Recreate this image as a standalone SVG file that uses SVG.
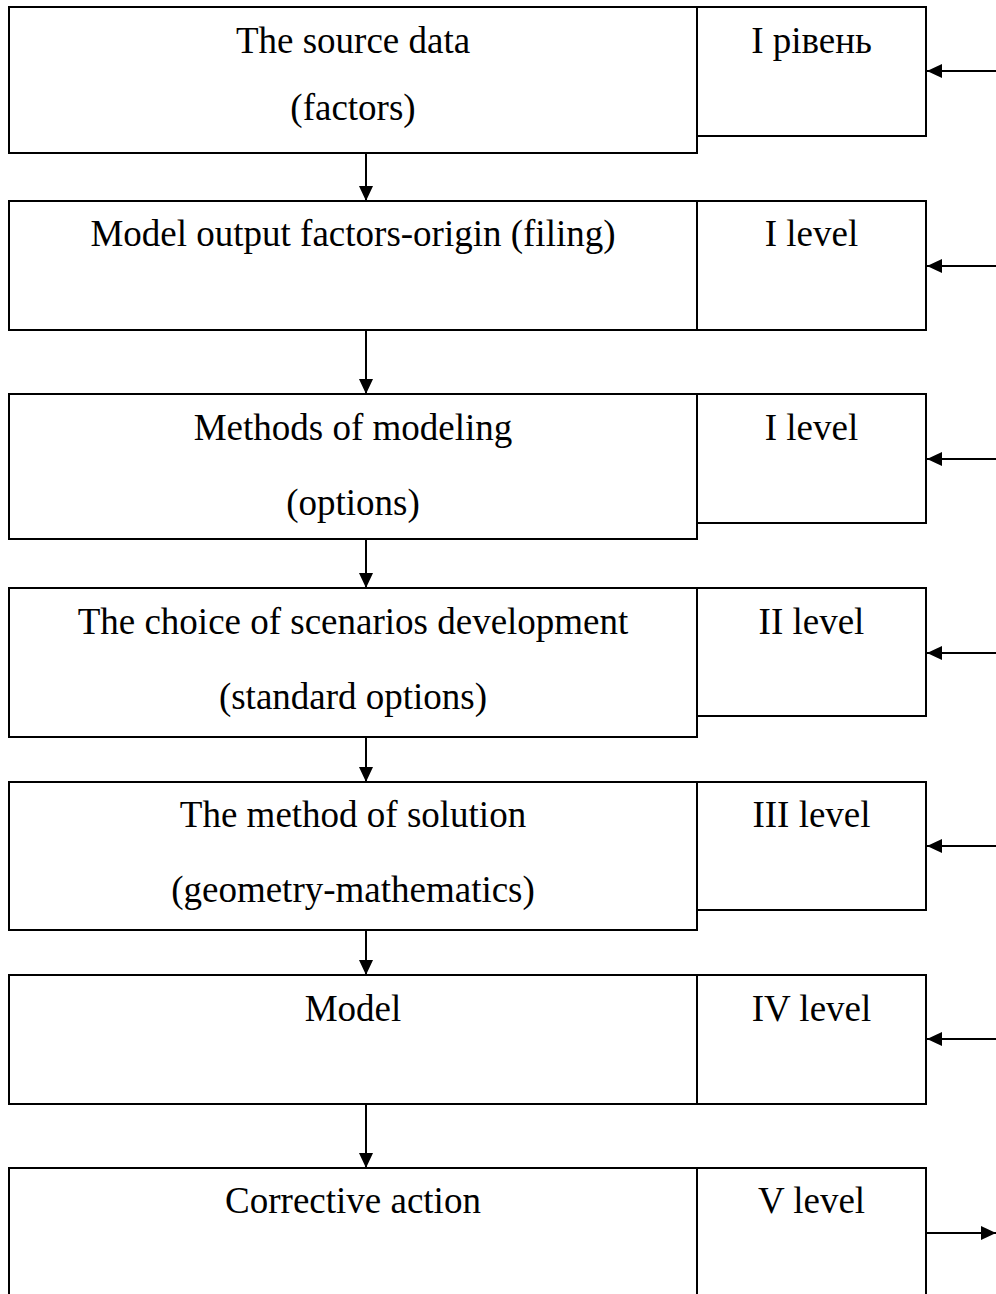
<svg xmlns="http://www.w3.org/2000/svg" width="996" height="1294" viewBox="0 0 996 1294">
<style>
.box{fill:#fff;stroke:#000;stroke-width:2}
.t{font-family:"Liberation Serif","Times New Roman",serif;font-size:37px;fill:#000;text-anchor:middle}
.c{stroke:#000;stroke-width:2;fill:none;marker-end:url(#ah)}
</style>
<defs>
<marker id="ah" markerUnits="userSpaceOnUse" markerWidth="15" markerHeight="14" refX="15" refY="7" orient="auto">
<path d="M0,0 L15,7 L0,14 z" fill="#000"/>
</marker>
</defs>
<rect width="996" height="1294" fill="#fff"/>
<g id="row1">
<rect class="box" x="9" y="7" width="688" height="146"/>
<rect class="box" x="697" y="7" width="229" height="129"/>
<text class="t" x="353" y="53">The source data</text>
<text class="t" x="353" y="120">(factors)</text>
<text class="t" x="811.5" y="53">I рівень</text>
</g>
<g id="row2">
<rect class="box" x="9" y="201" width="688" height="129"/>
<rect class="box" x="697" y="201" width="229" height="129"/>
<text class="t" x="353" y="246">Model output factors-origin (filing)</text>
<text class="t" x="811.5" y="246">I level</text>
</g>
<g id="row3">
<rect class="box" x="9" y="394" width="688" height="145"/>
<rect class="box" x="697" y="394" width="229" height="129"/>
<text class="t" x="353" y="440">Methods of modeling</text>
<text class="t" x="353" y="515">(options)</text>
<text class="t" x="811.5" y="440">I level</text>
</g>
<g id="row4">
<rect class="box" x="9" y="588" width="688" height="149"/>
<rect class="box" x="697" y="588" width="229" height="128"/>
<text class="t" x="353" y="634">The choice of scenarios development</text>
<text class="t" x="353" y="709">(standard options)</text>
<text class="t" x="811.5" y="634">II level</text>
</g>
<g id="row5">
<rect class="box" x="9" y="782" width="688" height="148"/>
<rect class="box" x="697" y="782" width="229" height="128"/>
<text class="t" x="353" y="827">The method of solution</text>
<text class="t" x="353" y="902">(geometry-mathematics)</text>
<text class="t" x="811.5" y="827">III level</text>
</g>
<g id="row6">
<rect class="box" x="9" y="975" width="688" height="129"/>
<rect class="box" x="697" y="975" width="229" height="129"/>
<text class="t" x="353" y="1021">Model</text>
<text class="t" x="811.5" y="1021">IV level</text>
</g>
<g id="row7">
<rect class="box" x="9" y="1168" width="688" height="140"/>
<rect class="box" x="697" y="1168" width="229" height="140"/>
<text class="t" x="353" y="1213">Corrective action</text>
<text class="t" x="811.5" y="1213">V level</text>
</g>
<g id="connectors">
<line class="c" x1="366" y1="153" x2="366" y2="201"/>
<line class="c" x1="366" y1="330" x2="366" y2="394"/>
<line class="c" x1="366" y1="539" x2="366" y2="588"/>
<line class="c" x1="366" y1="737" x2="366" y2="782"/>
<line class="c" x1="366" y1="930" x2="366" y2="975"/>
<line class="c" x1="366" y1="1104" x2="366" y2="1168"/>
<line class="c" x1="996" y1="71" x2="927" y2="71"/>
<line class="c" x1="996" y1="266" x2="927" y2="266"/>
<line class="c" x1="996" y1="459" x2="927" y2="459"/>
<line class="c" x1="996" y1="653" x2="927" y2="653"/>
<line class="c" x1="996" y1="846" x2="927" y2="846"/>
<line class="c" x1="996" y1="1039" x2="927" y2="1039"/>
<line class="c" x1="927" y1="1233" x2="996" y2="1233"/>
</g>
</svg>
